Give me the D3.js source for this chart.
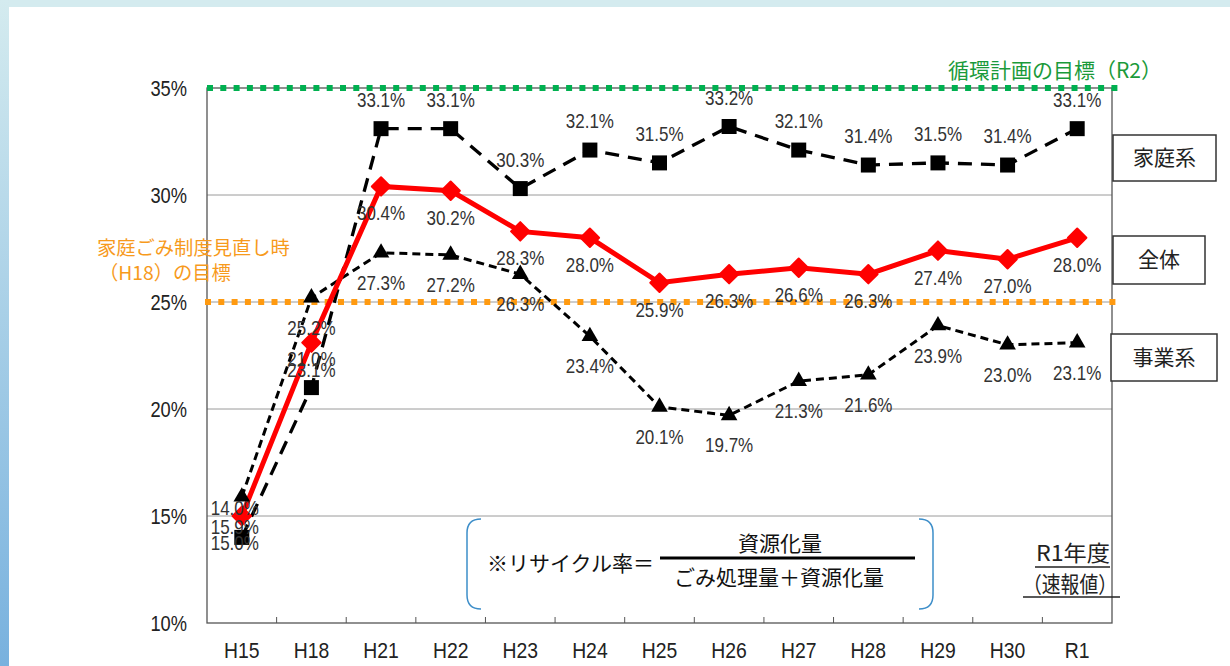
<!DOCTYPE html>
<meta charset="utf-8">
<style>
body { margin: 0; background: #fff; }
.num { font-family: "Liberation Sans", Arial, sans-serif; }
.jp { font-family: "Noto Sans CJK JP", "Noto Sans", sans-serif; }
.grid line { stroke: #9a9a9a; stroke-width: 1px; }
</style>
<body>
<script src="https://d3js.org/d3.v7.min.js"></script>
<script>

// data
var years = ["H15", "H18", "H21", "H22", "H23", "H24", "H25", "H26", "H27", "H28", "H29", "H30", "R1"];
var household = [14.0, 21.0, 33.1, 33.1, 30.3, 32.1, 31.5, 33.2, 32.1, 31.4, 31.5, 31.4, 33.1];
var total     = [15.0, 23.1, 30.4, 30.2, 28.3, 28.0, 25.9, 26.3, 26.6, 26.3, 27.4, 27.0, 28.0];
var business  = [15.9, 25.2, 27.3, 27.2, 26.3, 23.4, 20.1, 19.7, 21.3, 21.6, 23.9, 23.0, 23.1];
var yTicks = [10, 15, 20, 25, 30, 35];
var planTarget = 35;   // 循環計画の目標（R2）
var h18Target = 25;    // 家庭ごみ制度見直し時（H18）の目標

var margin = {top: 88, left: 207},
    width = 905,
    height = 535;

var svg = d3.select("body").append("svg")
    .attr("width", 1230)
    .attr("height", 666);

// page background strips
var defs = svg.append("defs");
var grad = defs.append("linearGradient").attr("id", "side")
    .attr("x1", 0).attr("y1", 0).attr("x2", 0).attr("y2", 1);
grad.append("stop").attr("offset", "0%").attr("stop-color", "#d4ebef");
grad.append("stop").attr("offset", "100%").attr("stop-color", "#78b1de");
svg.append("rect").attr("x", 0).attr("y", 0).attr("width", 1230).attr("height", 7).attr("fill", "#d4ebef");
svg.append("rect").attr("x", 0).attr("y", 0).attr("width", 9).attr("height", 666).attr("fill", "url(#side)");

var g = svg.append("g")
    .attr("transform", "translate(" + margin.left + "," + margin.top + ")");

var x = d3.scaleBand().domain(years).range([0, width]);
var y = d3.scaleLinear().domain([10, 35]).range([height, 0]);
var cx = function(d, i) { return x(years[i]) + x.bandwidth() / 2; };

// the original numbers use a tall, narrow gothic face: squeeze horizontally
function squeeze(px, py, k) {
  return "translate(" + px + "," + py + ") scale(" + k + ",1)";
}

// grid lines
g.append("g").attr("class", "grid")
  .selectAll("line").data(yTicks.slice(1, -1)).enter().append("line")
    .attr("x1", 0).attr("x2", width)
    .attr("y1", function(d) { return y(d); })
    .attr("y2", function(d) { return y(d); });

// frame
g.append("rect").attr("width", width).attr("height", height)
    .attr("fill", "none").attr("stroke", "#555").attr("stroke-width", 1.3);

// y axis labels
g.append("g").attr("class", "num")
  .selectAll("text").data(yTicks).enter().append("text")
    .attr("transform", function(d) { return squeeze(-20, y(d) + 8, 0.85); })
    .attr("text-anchor", "end")
    .attr("font-size", 21.5)
    .attr("fill", "#222")
    .text(function(d) { return d + "%"; });

// x axis ticks and labels
g.append("g")
  .selectAll("line").data(years.slice(1)).enter().append("line")
    .attr("x1", function(d) { return x(d); })
    .attr("x2", function(d) { return x(d); })
    .attr("y1", height - 6).attr("y2", height)
    .attr("stroke", "#555");
g.append("g").attr("class", "num")
  .selectAll("text").data(years).enter().append("text")
    .attr("transform", function(d) { return squeeze(x(d) + x.bandwidth() / 2, height + 35, 0.88); })
    .attr("text-anchor", "middle")
    .attr("font-size", 22)
    .attr("fill", "#222")
    .text(function(d) { return d; });

// target lines
g.append("line")
    .attr("x1", 0).attr("x2", width + 6)
    .attr("y1", y(planTarget)).attr("y2", y(planTarget))
    .attr("stroke", "#00b050").attr("stroke-width", 6)
    .attr("stroke-dasharray", "6,7.3");
g.append("line")
    .attr("x1", -2).attr("x2", width + 5)
    .attr("y1", y(h18Target)).attr("y2", y(h18Target))
    .attr("stroke", "#ff9a10").attr("stroke-width", 6)
    .attr("stroke-dasharray", "6,7.3");

g.append("text").attr("class", "jp")
    .attr("x", width - 57).attr("y", y(planTarget) - 10)
    .attr("text-anchor", "middle")
    .attr("font-size", 21).attr("fill", "#1a9a3a")
    .text("循環計画の目標（R2）");
g.append("text").attr("class", "jp")
    .attr("x", -110).attr("y", y(h18Target) - 47)
    .attr("font-size", 19.3).attr("fill", "#f79a1c")
    .text("家庭ごみ制度見直し時");
g.append("text").attr("class", "jp")
    .attr("x", -108).attr("y", y(h18Target) - 22)
    .attr("font-size", 19.3).attr("fill", "#f79a1c")
    .text("（H18）の目標");

// lines
var line = d3.line()
    .x(cx)
    .y(function(d) { return y(d); });

g.append("path").datum(business)
    .attr("fill", "none").attr("stroke", "#000").attr("stroke-width", 3)
    .attr("stroke-dasharray", "8,5")
    .attr("d", line);
g.append("path").datum(household)
    .attr("fill", "none").attr("stroke", "#000").attr("stroke-width", 3.3)
    .attr("stroke-dasharray", "14,9")
    .attr("d", line);
g.append("path").datum(total)
    .attr("fill", "none").attr("stroke", "#ff0000").attr("stroke-width", 5)
    .attr("d", line);

// markers
function markers(data, type, size, rot, color) {
  g.append("g").selectAll("path").data(data).enter().append("path")
    .attr("d", d3.symbol().type(type).size(size))
    .attr("transform", function(d, i) {
      return "translate(" + cx(d, i) + "," + y(d) + ") rotate(" + rot + ")";
    })
    .attr("fill", color)
    .attr("stroke", color)
    .attr("stroke-linejoin", "round")
    .attr("stroke-width", rot ? 2 : 0);
}
markers(household, d3.symbolSquare, 225, 0, "#000");
markers(business, d3.symbolTriangle, 120, 0, "#000");
markers(total, d3.symbolSquare, 170, 45, "#ff0000");

// value labels
function labels(data, dy) {
  g.append("g").attr("class", "num")
    .selectAll("text").data(data).enter().append("text")
    .attr("transform", function(d, i) { return squeeze(cx(d, i) - (i === 0 ? 7 : 0), y(d) + dy, 0.85); })
    .attr("text-anchor", "middle")
    .attr("font-size", 20)
    .attr("fill", "#333")
    .text(function(d) { return d.toFixed(1) + "%"; });
}
labels(household, -22);
labels(total, 34);
labels(business, 37);

// legend boxes on the right
var legend = [
  {name: "家庭系", x: 1113, y: 135, w: 103, h: 46},
  {name: "全体",   x: 1113, y: 236, w: 92,  h: 48},
  {name: "事業系", x: 1111, y: 334, w: 106, h: 47}
];
var lg = svg.selectAll(".lg").data(legend).enter().append("g").attr("class", "lg");
lg.append("rect")
    .attr("x", function(d) { return d.x; }).attr("y", function(d) { return d.y; })
    .attr("width", function(d) { return d.w; }).attr("height", function(d) { return d.h; })
    .attr("fill", "#fff").attr("stroke", "#333").attr("stroke-width", 1.5);
lg.append("text").attr("class", "jp")
    .attr("x", function(d) { return d.x + d.w / 2; })
    .attr("y", function(d) { return d.y + d.h / 2 + 7; })
    .attr("text-anchor", "middle")
    .attr("font-size", 21).attr("fill", "#222")
    .text(function(d) { return d.name; });

// formula box
var fb = svg.append("g");
fb.append("path")
    .attr("d", "M481,519 Q467,519 467,533 L467,595 Q467,609 481,609")
    .attr("fill", "none").attr("stroke", "#3d8ec9").attr("stroke-width", 1.5);
fb.append("path")
    .attr("d", "M919,519 Q933,519 933,533 L933,595 Q933,609 919,609")
    .attr("fill", "none").attr("stroke", "#3d8ec9").attr("stroke-width", 1.5);
fb.append("text").attr("class", "jp")
    .attr("x", 487).attr("y", 571).attr("font-size", 21).attr("fill", "#111")
    .text("※リサイクル率＝");
fb.append("line").attr("x1", 660).attr("x2", 915).attr("y1", 558).attr("y2", 558)
    .attr("stroke", "#000").attr("stroke-width", 3);
fb.append("text").attr("class", "jp")
    .attr("x", 780).attr("y", 551).attr("text-anchor", "middle")
    .attr("font-size", 21).attr("fill", "#111")
    .text("資源化量");
fb.append("text").attr("class", "jp")
    .attr("x", 779).attr("y", 585).attr("text-anchor", "middle")
    .attr("font-size", 21).attr("fill", "#111")
    .text("ごみ処理量＋資源化量");

// R1 note
var note = svg.append("g").attr("class", "jp").attr("fill", "#222");
note.append("text").attr("x", 1036).attr("y", 561).attr("font-size", 22)
    .attr("textLength", 74).attr("lengthAdjust", "spacingAndGlyphs")
    .text("R1年度");
note.append("text").attr("x", 1023).attr("y", 592).attr("font-size", 22)
    .attr("textLength", 94).attr("lengthAdjust", "spacingAndGlyphs")
    .text("（速報値）");
note.append("line").attr("x1", 1035).attr("x2", 1110).attr("y1", 567).attr("y2", 567)
    .attr("stroke", "#222").attr("stroke-width", 1.3);
note.append("line").attr("x1", 1023).attr("x2", 1120).attr("y1", 597).attr("y2", 597)
    .attr("stroke", "#222").attr("stroke-width", 1.3);

</script>
</body>
